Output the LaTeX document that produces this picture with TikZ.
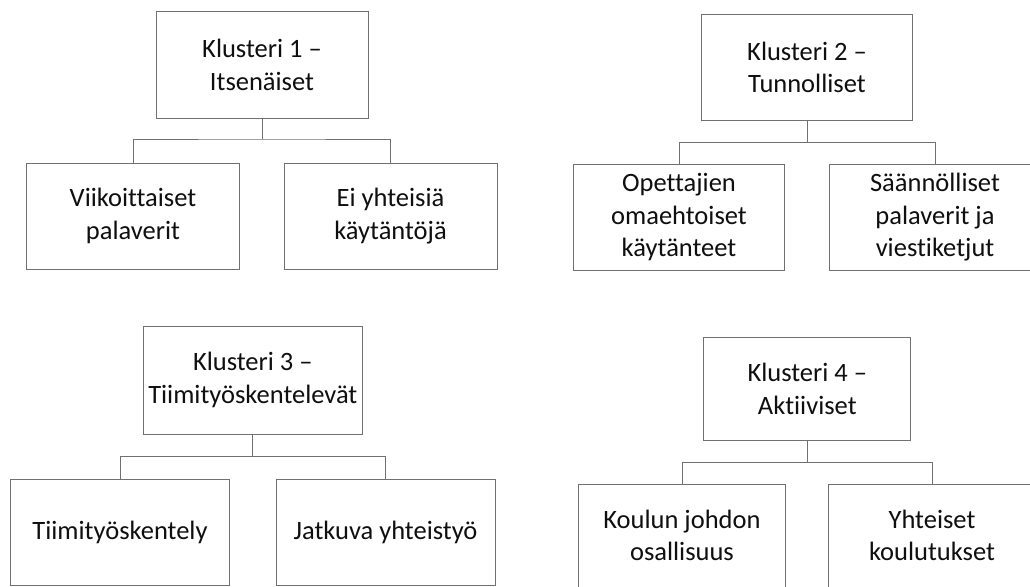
\documentclass[tikz,border=0pt]{standalone}
\usepackage{fontspec}
\setmainfont{Carlito}[Ligatures=NoCommon]
\definecolor{linegray}{RGB}{112,112,112}
\definecolor{textblack}{RGB}{15,15,15}
\begin{document}
\begin{tikzpicture}[x=1pt,y=-1pt,
  box/.style={draw=linegray,line width=1pt,fill=white,rectangle,inner sep=2pt,
    align=center,text=textblack,font=\fontsize{26.5}{32.5}\selectfont},
  link/.style={draw=linegray,line width=1pt}]
\useasboundingbox (0,0) rectangle (1030,586);
\clip (0,0) rectangle (1030,586);
% Cluster 1
\node[box,minimum width=212pt,minimum height=106pt] (t1) at (262,65) {Klusteri 1 –\\Itsenäiset};
\node[box,minimum width=213pt,minimum height=106pt] (l1) at (133,216) {Viikoittaiset\\palaverit};
\node[box,minimum width=213pt,minimum height=106pt] (r1) at (390.5,216) {Ei yhteisiä\\käytäntöjä};
\coordinate (b1) at (262,139);
% Cluster 2
\node[box,minimum width=211pt,minimum height=105pt] (t2) at (807,67.5) {Klusteri 2 –\\Tunnolliset};
\node[box,minimum width=211pt,minimum height=106pt] (l2) at (679,217.5) {Opettajien\\omaehtoiset\\käytänteet};
\node[box,minimum width=211pt,minimum height=106pt] (r2) at (935,217.5) {Säännölliset\\palaverit ja\\viestiketjut};
\coordinate (b2) at (807,142.5);
% Cluster 3
\node[box,minimum width=219pt,minimum height=108pt] (t3) at (252.8,380) {Klusteri 3 –\\Tiimityöskentelevät};
\node[box,minimum width=219pt,minimum height=106pt] (l3) at (120,532.5) {Tiimityöskentely};
\node[box,minimum width=219pt,minimum height=106pt] (r3) at (385.5,532.5) {Jatkuva yhteistyö};
\coordinate (b3) at (252.8,456.5);
% Cluster 4
\node[box,minimum width=207pt,minimum height=103pt] (t4) at (807.3,389) {Klusteri 4 –\\Aktiiviset};
\node[box,minimum width=207pt,minimum height=103pt] (l4) at (682,535.5) {Koulun johdon\\osallisuus};
\node[box,minimum width=207pt,minimum height=103pt] (r4) at (932,535.5) {Yhteiset\\koulutukset};
\coordinate (b4) at (807.3,462.5);
% connectors
\foreach \i in {1,2,3,4}{
  \draw[link] (t\i.south) -- (b\i);
  \draw[link] (l\i.north) |- (b\i) -| (r\i.north);
}
\end{tikzpicture}
\end{document}
